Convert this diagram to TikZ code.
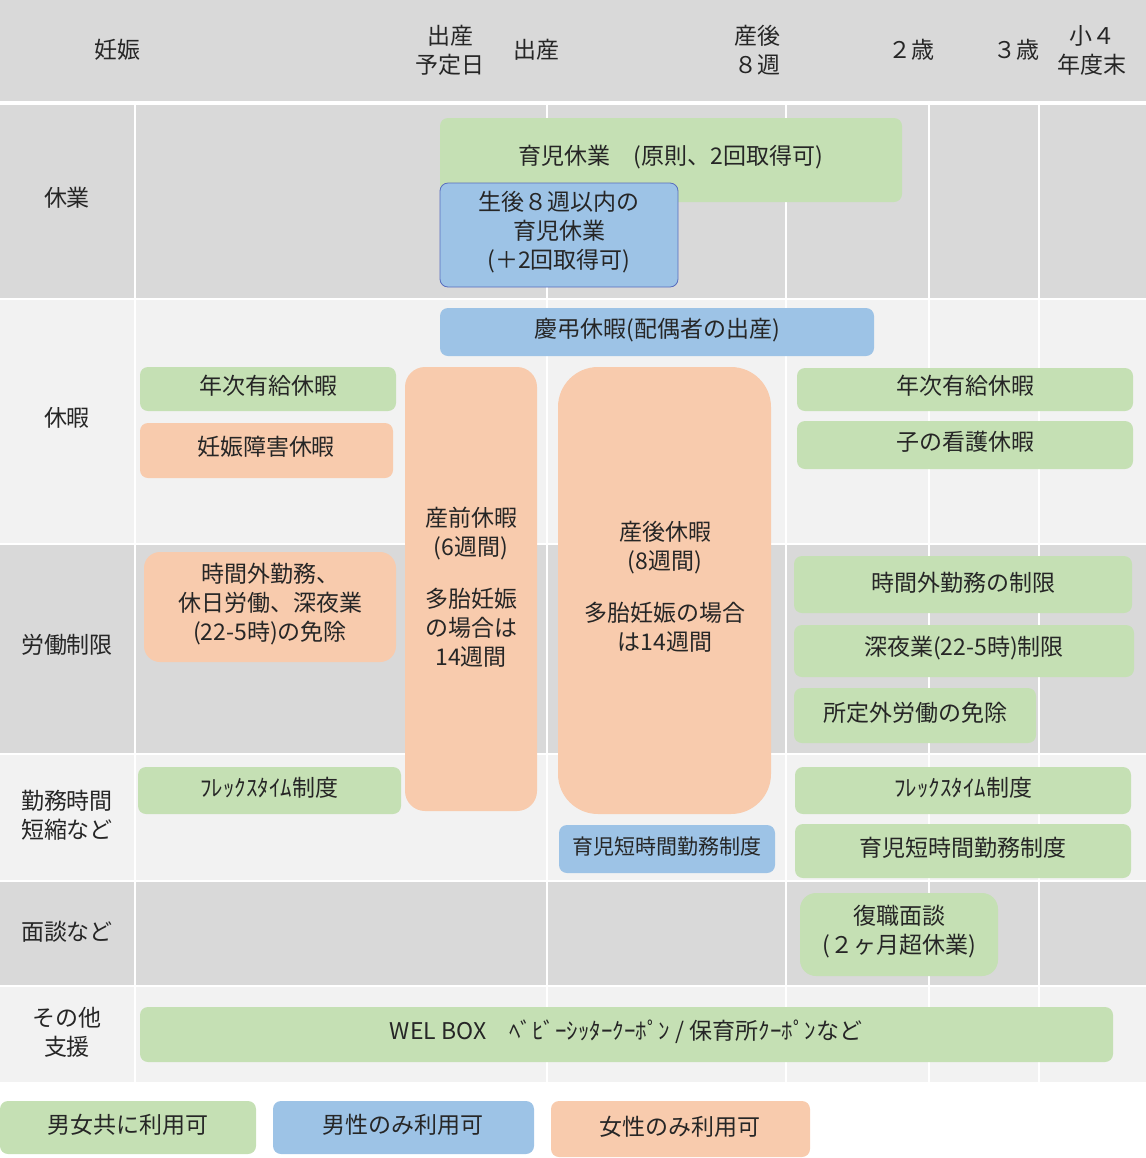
\documentclass[tikz,border=0pt]{standalone}
\usepackage{fontspec}
\setmainfont{Noto Sans CJK JP}
\definecolor{gA}{HTML}{C5E0B4}
\definecolor{bA}{HTML}{9DC3E6}
\definecolor{oA}{HTML}{F8CBAD}
\definecolor{dk}{HTML}{D9D9D9}
\definecolor{lt}{HTML}{F2F2F2}
\begin{document}
\begin{tikzpicture}[x=0.5pt,y=-0.5pt,
  every node/.style={font=\fontsize{11.5}{14.5}\selectfont,align=center,text=black!85},
  bx/.style={rounded corners=4pt}]
\useasboundingbox (0,0) rectangle (1146,1158);
% backgrounds
\fill[dk] (0,0) rectangle (1146,101);
\fill[dk] (0,105) rectangle (1146,298);
\fill[lt] (0,300) rectangle (1146,543);
\fill[dk] (0,545) rectangle (1146,753);
\fill[lt] (0,755) rectangle (1146,880);
\fill[dk] (0,882) rectangle (1146,985);
\fill[lt] (0,987) rectangle (1146,1082);
\foreach \x in {135,547,786,929,1039}{\draw[white,line width=1pt] (\x,105) -- (\x,1082);}
% header
\node (h1) at (117,50) {妊娠};
\node (h2) at (450,50) {出産\\予定日};
\node (h3) at (536,50) {出産};
\node (h4) at (757,50) {産後\\８週};
\node (h5) at (911,50) {２歳};
\node (h6) at (1016,50) {３歳};
\node (h7) at (1092,50) {小４\\年度末};
% row labels
\node (r1) at (67,198) {休業};
\node (r2) at (67,418) {休暇};
\node (r3) at (67,645) {労働制限};
\node[align=left] (r4) at (67,815) {勤務時間\\短縮など};
\node (r5) at (67,932) {面談など};
\node (r6) at (67,1032) {その他\\支援};
% boxes
\fill[gA,bx] (440,118) rectangle (902,202);
\node (a1) at (671,157) {育児休業　(原則、2回取得可)};
\filldraw[fill=bA,draw=bA!70!blue!80!black,bx,line width=0.4pt] (440,183) rectangle (678,287);
\node (a2) at (559,232) {生後８週以内の\\育児休業\\(＋2回取得可)};
\fill[bA,bx] (440,308) rectangle (874,356);
\node (a3) at (657,330) {慶弔休暇(配偶者の出産)};
\fill[gA,bx] (140,367) rectangle (396,411);
\node (a4) at (268,386) {年次有給休暇};
\fill[oA,bx] (140,423) rectangle (393,478);
\node (a5) at (266,447) {妊娠障害休暇};
\fill[oA,rounded corners=10pt] (405,367) rectangle (537,811);
\node (a6) at (471,587) {産前休暇\\(6週間)\\[1em]多胎妊娠\\の場合は\\14週間};
\fill[oA,rounded corners=20pt] (558,367) rectangle (771,814);
\node (a7) at (665,587) {産後休暇\\(8週間)\\[1em]多胎妊娠の場合\\は14週間};
\fill[gA,bx] (797,368) rectangle (1133,411);
\node (a8) at (965,386) {年次有給休暇};
\fill[gA,bx] (797,421) rectangle (1133,469);
\node (a9) at (965,442) {子の看護休暇};
\fill[oA,rounded corners=8pt] (144,552) rectangle (396,662);
\node (b1) at (270,604) {時間外勤務、\\休日労働、深夜業\\(22-5時)の免除};
\fill[gA,bx] (794,556) rectangle (1132,613);
\node (b2) at (963,583) {時間外勤務の制限};
\fill[gA,bx] (794,625) rectangle (1134,677);
\node (b3) at (964,648) {深夜業(22-5時)制限};
\fill[gA,bx] (794,688) rectangle (1036,743);
\node (b4) at (915,713) {所定外労働の免除};
\fill[gA,bx] (138,767) rectangle (401,814);
\node (c1) at (269,788) {ﾌﾚｯｸｽﾀｲﾑ制度};
\fill[bA,bx] (559,825) rectangle (775,873);
\node[font=\fontsize{10.5}{13}\selectfont] (c2) at (667,847) {育児短時間勤務制度};
\fill[gA,bx] (795,767) rectangle (1131,814);
\node (c3) at (963,788) {ﾌﾚｯｸｽﾀｲﾑ制度};
\fill[gA,bx] (795,824) rectangle (1131,878);
\node (c4) at (963,848) {育児短時間勤務制度};
\fill[gA,rounded corners=8pt] (800,893) rectangle (998,976);
\node (d1) at (899,932) {復職面談\\(２ヶ月超休業)};
\fill[gA,bx] (140,1007) rectangle (1113,1062);
\node (e1) at (626,1032) {WEL BOX　ﾍﾞﾋﾞｰｼｯﾀｰｸｰﾎﾟﾝ / 保育所ｸｰﾎﾟﾝなど};
% legend
\fill[gA,bx] (0,1101) rectangle (256,1154);
\node (l1) at (128,1125) {男女共に利用可};
\fill[bA,bx] (273,1101) rectangle (534,1154);
\node (l2) at (403,1125) {男性のみ利用可};
\fill[oA,bx] (551,1101) rectangle (810,1157);
\node (l3) at (680,1127) {女性のみ利用可};
\end{tikzpicture}
\end{document}
